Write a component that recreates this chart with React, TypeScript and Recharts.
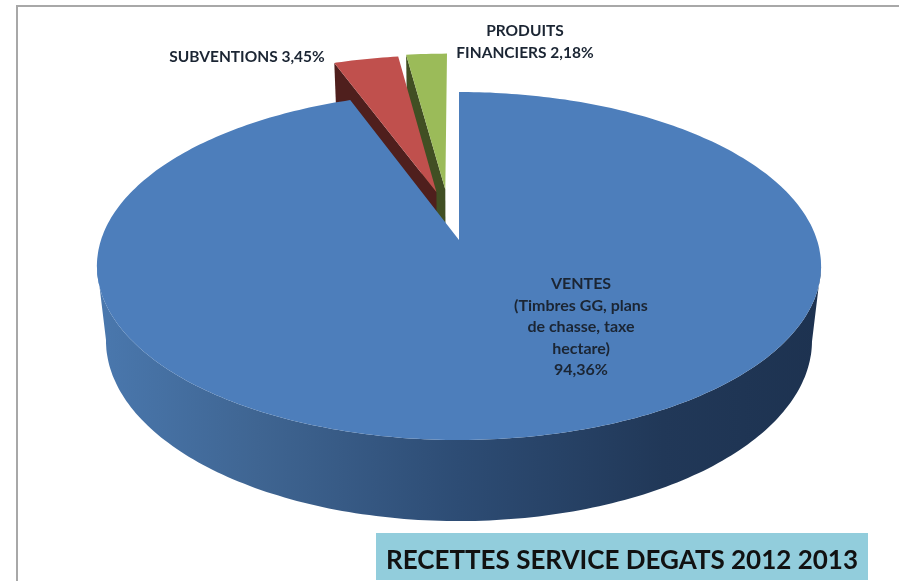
import { Pie, PieChart } from "recharts";

const categories = ["PRODUITS FINANCIERS", "SUBVENTIONS", "VENTES"];
const shares = [2.18, 3.45, 94.36];
const labelLines = [
  ["PRODUITS", "FINANCIERS 2,18%"],
  ["SUBVENTIONS 3,45%"],
  ["VENTES", "(Timbres GG, plans", "de chasse, taxe", "hectare)", "94,36%"],
];
const chartTitle = "RECETTES SERVICE DEGATS 2012 2013";

const data = categories.map((name, i) => ({ name, value: shares[i] }));

const faceColors = ["#9bbb59", "#c0504d", "#4d7ebb"];
const wallColors = ["#414f23", "#4f1f1d", "url(#blueWall)"];
// how far the two small slices are pulled out of the pie, in pie radii
const pulled = [
  [-0.04, 0.31],
  [-0.066, 0.295],
  [0, 0],
];
const labelSpots = [
  [525, 32, 22, 15.5],
  [247, 58, 22, 15.5],
  [581, 285, 21.5, 16],
];

// perspective of the tilted pie
const TILT = 0.1494;
const LIFT = -134.25;
const DEPTH = 82;
const SHRINK = 0.025;

const rad = (a: number) => (a * Math.PI) / 180;

const SlantedSlice = (props: any) => {
  const { cx, cy, outerRadius, startAngle, endAngle, index } = props;
  const [du, dv] = pulled[index];

  const project = (u: number, v: number, z: number) => {
    const w = 1 + TILT * v + SHRINK * z;
    const x = cx + (outerRadius * u) / w;
    const y = (LIFT * v + cy + DEPTH * z) / w;
    return `${x.toFixed(1)} ${y.toFixed(1)}`;
  };
  const rim = (a: number, z: number) =>
    project(Math.cos(rad(a)) + du, Math.sin(rad(a)) + dv, z);

  const angles: number[] = [];
  for (let a = startAngle; a < endAngle; a += 1) angles.push(a);
  angles.push(endAngle);

  const face =
    "M" + project(du, dv, 0) + " L" + angles.map((a) => rim(a, 0)).join(" L") + " Z";

  let wall = "";
  if (du !== 0 || dv !== 0) {
    wall = `M${project(du, dv, 0)} L${rim(endAngle, 0)} L${rim(endAngle, 1)} L${project(du, dv, 1)} Z`;
  } else {
    const front = angles.filter((a) => a >= 188 && a <= 352);
    wall =
      "M" +
      front.map((a) => rim(a, 0)).join(" L") +
      " L" +
      [...front].reverse().map((a) => rim(a, 1)).join(" L") +
      " Z";
  }

  return (
    <g>
      <defs>
        <linearGradient id="blueWall" gradientUnits="userSpaceOnUse" x1={97} y1={0} x2={822} y2={0}>
          <stop offset="0%" stopColor="#4a78ae" />
          <stop offset="22%" stopColor="#3f6592" />
          <stop offset="50%" stopColor="#2d4c74" />
          <stop offset="78%" stopColor="#213858" />
          <stop offset="100%" stopColor="#1d3250" />
        </linearGradient>
      </defs>
      <path d={wall} fill={wallColors[index]} />
      <path d={face} fill={faceColors[index]} />
    </g>
  );
};

const SliceLabel = (props: any) => {
  const [x, y, lineGap, size] = labelSpots[props.index];
  return (
    <text
      x={x}
      y={y}
      textAnchor="middle"
      dominantBaseline="middle"
      fontFamily="Lato"
      fontWeight={700}
      fontSize={size}
      fill="#1b2533"
    >
      {labelLines[props.index].map((line, i) => (
        <tspan key={line} x={x} y={y + i * lineGap}>
          {line}
        </tspan>
      ))}
    </text>
  );
};

export default function App() {
  return (
    <div style={{ position: "absolute", left: 0, top: 0, width: 899, height: 581, background: "#fff", overflow: "hidden", filter: "blur(0.5px)" }}>
      <div
        style={{
          position: "absolute",
          left: 16,
          top: 5,
          right: 0,
          bottom: 0,
          borderLeft: "2px solid #a8a8a8",
          borderTop: "2px solid #a8a8a8",
        }}
      />
      <PieChart
        width={899}
        height={581}
        margin={{ top: 0, right: 0, bottom: 0, left: 0 }}
        style={{ position: "absolute", left: 0, top: 0 }}
      >
        <Pie
          data={data}
          dataKey="value"
          nameKey="name"
          cx={459}
          cy={240}
          outerRadius={358}
          startAngle={90}
          endAngle={450}
          stroke="none"
          labelLine={false}
          label={SliceLabel}
          shape={SlantedSlice}
          isAnimationActive={false}
        />
      </PieChart>
      <div
        style={{
          position: "absolute",
          left: 376,
          top: 533,
          width: 492,
          height: 47,
          background: "#92cddc",
          fontFamily: "Lato",
          fontWeight: 700,
          fontSize: 26,
          lineHeight: "52px",
          textAlign: "center",
          color: "#111",
          whiteSpace: "nowrap",
        }}
      >
        {chartTitle}
      </div>
    </div>
  );
}
